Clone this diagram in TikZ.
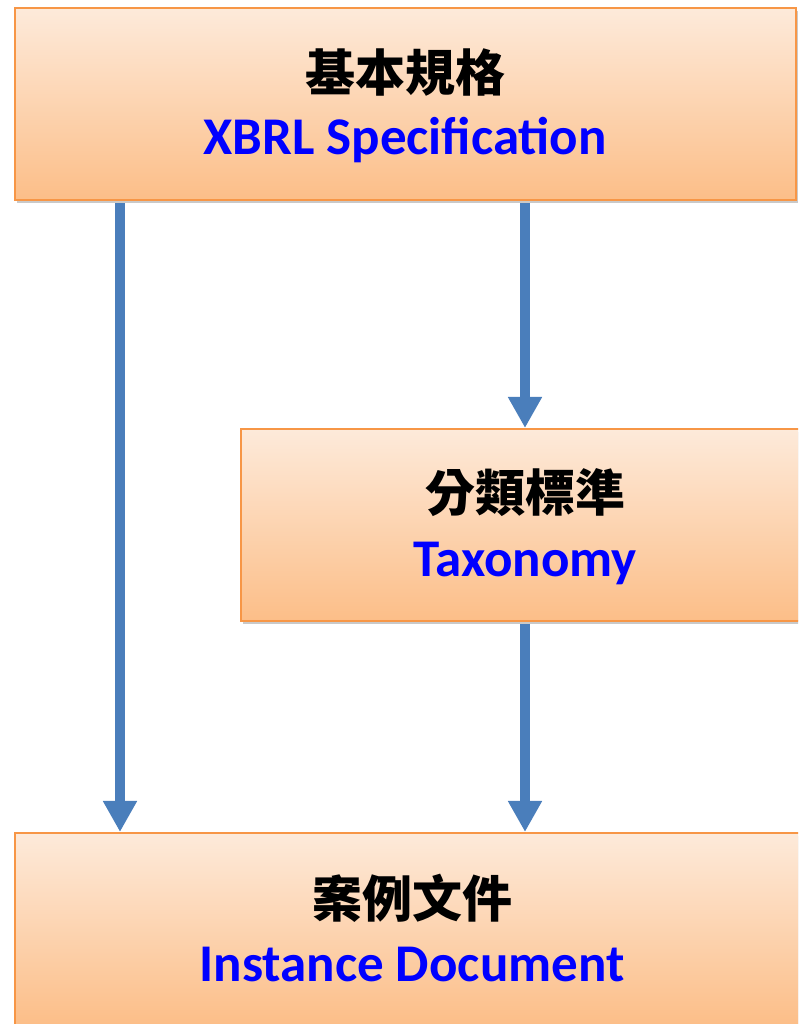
\documentclass[tikz,border=0pt]{standalone}
\usepackage{fontspec}
\setmainfont{Carlito}
\newfontfamily\cjk{Noto Sans CJK TC}
\usetikzlibrary{arrows.meta,shadows}
\definecolor{boxtop}{HTML}{FDEADA}
\definecolor{boxbot}{HTML}{FCBE88}
\definecolor{boxline}{HTML}{F79646}
\definecolor{arrblue}{HTML}{4A7EBB}
\definecolor{txtblue}{HTML}{0000FF}
\tikzset{
  box/.style={draw=boxline, line width=2pt, top color=boxtop, bottom color=boxbot,
    minimum height=192pt, inner sep=0pt,
    drop shadow={shadow xshift=2pt, shadow yshift=-3pt, opacity=0.35, fill=black!60}},
  zh/.style={anchor=base, inner sep=0pt, font=\cjk\bfseries\fontsize{50}{60}\selectfont, text=black},
  en/.style={anchor=base, inner sep=0pt, font=\bfseries\fontsize{53}{63}\selectfont, text=txtblue},
  arr/.style={draw=arrblue, line width=10pt, -{Triangle[width=32pt,length=31pt]}, shorten <=2pt}
}
\begin{document}
\begin{tikzpicture}[x=1pt,y=1pt]
\useasboundingbox (0,0) rectangle (798,1024);
\clip (0,0) rectangle (798,1024);
\fill[white] (0,0) rectangle (798,1024);
% boxes
\node[box, minimum width=781pt] (spec) at (405,919.5) {};
\node[box, minimum width=569pt] (tax) at (525,499) {};
\node[box, minimum width=795pt] (inst) at (412,95) {};
% texts
\node[zh] (speczh) at (405,1024-92) {基本規格};
\node[en] (specen) at (405,1024-155) {XBRL Specification};
\node[zh] (taxzh) at (525,1024-512) {分類標準};
\node[en] (taxen) at (525,1024-577) {Taxonomy};
\node[zh] (instzh) at (412,1024-918) {案例文件};
\node[en] (insten) at (412,1024-982) {Instance Document};
% arrows
\coordinate (lx) at (120,0);
\coordinate (rx) at (525,0);
\draw[arr] (spec.south -| lx) -- (inst.north -| lx);
\draw[arr] (spec.south -| rx) -- (tax.north -| rx);
\draw[arr] (tax.south -| rx) -- (inst.north -| rx);
\end{tikzpicture}
\end{document}
